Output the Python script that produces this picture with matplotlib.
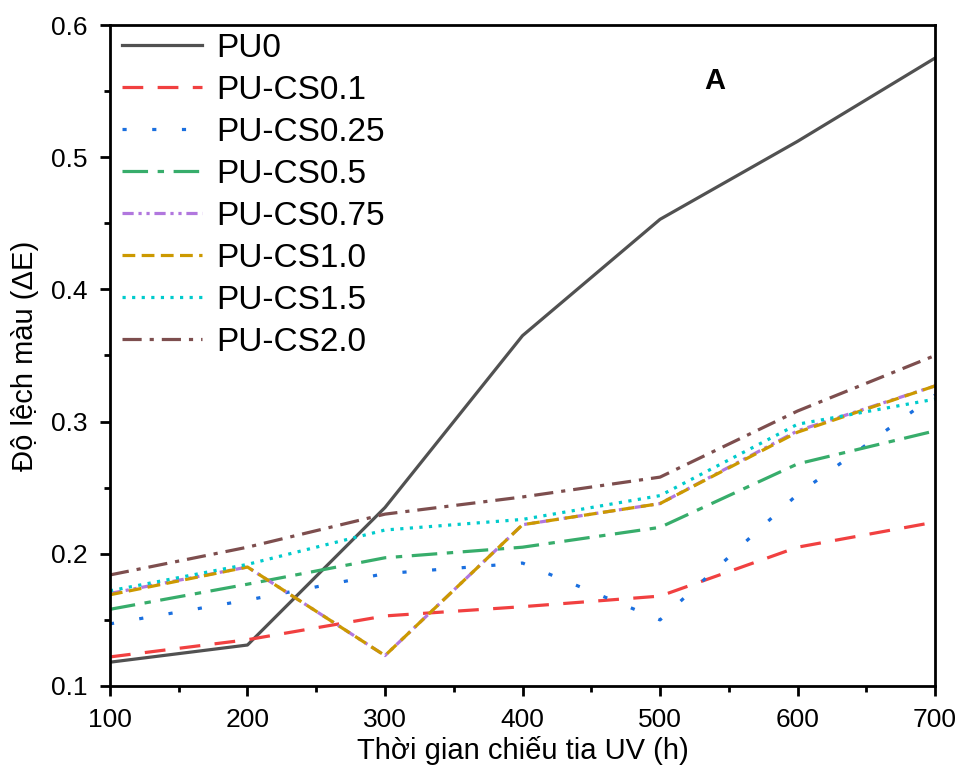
import matplotlib
matplotlib.use("Agg")
import matplotlib.pyplot as plt
from matplotlib.ticker import MultipleLocator

plt.rcParams['font.family'] = ['Liberation Sans', 'DejaVu Sans']

hours = [100, 200, 300, 400, 500, 600, 700]
labels = ["PU0", "PU-CS0.1", "PU-CS0.25", "PU-CS0.5", "PU-CS0.75", "PU-CS1.0", "PU-CS1.5", "PU-CS2.0"]
pu0 = [0.118, 0.131, 0.235, 0.365, 0.453, 0.512, 0.575]
pu_cs01 = [0.122, 0.135, 0.153, 0.160, 0.168, 0.205, 0.224]
pu_cs025 = [0.147, 0.165, 0.185, 0.193, 0.150, 0.245, 0.320]
pu_cs05 = [0.158, 0.177, 0.197, 0.205, 0.220, 0.268, 0.293]
pu_cs075 = [0.170, 0.190, 0.123, 0.222, 0.238, 0.293, 0.327]
pu_cs10 = [0.169, 0.190, 0.123, 0.222, 0.238, 0.292, 0.327]
pu_cs15 = [0.172, 0.192, 0.218, 0.226, 0.244, 0.298, 0.317]
pu_cs20 = [0.184, 0.205, 0.230, 0.243, 0.258, 0.308, 0.350]
series = [pu0, pu_cs01, pu_cs025, pu_cs05, pu_cs075, pu_cs10, pu_cs15, pu_cs20]

colors = ["#515151", "#F14040", "#1A6FDF", "#37AD6B", "#B177DE", "#CC9900", "#00CBCC", "#7D4E4E"]
dashes = [None, (6.5, 4.5), (1.3, 8), (8, 3, 2, 3), (3.5, 1.5, 1, 1.5, 1, 1.5), (4, 2), (1, 2), (6, 2.5, 1.3, 2.5)]

fig = plt.figure(figsize=(9.62, 7.74), dpi=100)
ax = fig.add_axes([0.1143, 0.1137, 0.8577, 0.854])

for ys, lab, c, d in zip(series, labels, colors, dashes):
    if d is None:
        ax.plot(hours, ys, color=c, lw=2.3, label=lab)
    else:
        ax.plot(hours, ys, color=c, lw=2.3, label=lab, dashes=d)

ax.set_xlim(100, 700)
ax.set_ylim(0.1, 0.6)
ax.xaxis.set_major_locator(MultipleLocator(100))
ax.xaxis.set_minor_locator(MultipleLocator(50))
ax.yaxis.set_major_locator(MultipleLocator(0.1))
ax.yaxis.set_minor_locator(MultipleLocator(0.05))
ax.yaxis.set_major_formatter(matplotlib.ticker.FormatStrFormatter('%.1f'))
ax.tick_params(which='major', direction='out', length=7, width=2, labelsize=19, pad=9)
ax.tick_params(which='minor', direction='out', length=4, width=2)
for s in ax.spines.values():
    s.set_linewidth(2)

ax.set_xlabel("Thời gian chiếu tia UV (h)", fontsize=21, labelpad=3)
ax.set_ylabel("Độ lệch màu (ΔE)", fontsize=21, labelpad=9)
ax.text(540, 0.558, "A", fontsize=21, fontweight='bold', ha='center', va='center')

ax.legend(loc='upper left', frameon=False, fontsize=24, handlelength=2.4,
          handletextpad=0.4, labelspacing=0.33, borderaxespad=0.0, bbox_to_anchor=(-0.001, 1.008))

fig.savefig("out.png", dpi=100)
